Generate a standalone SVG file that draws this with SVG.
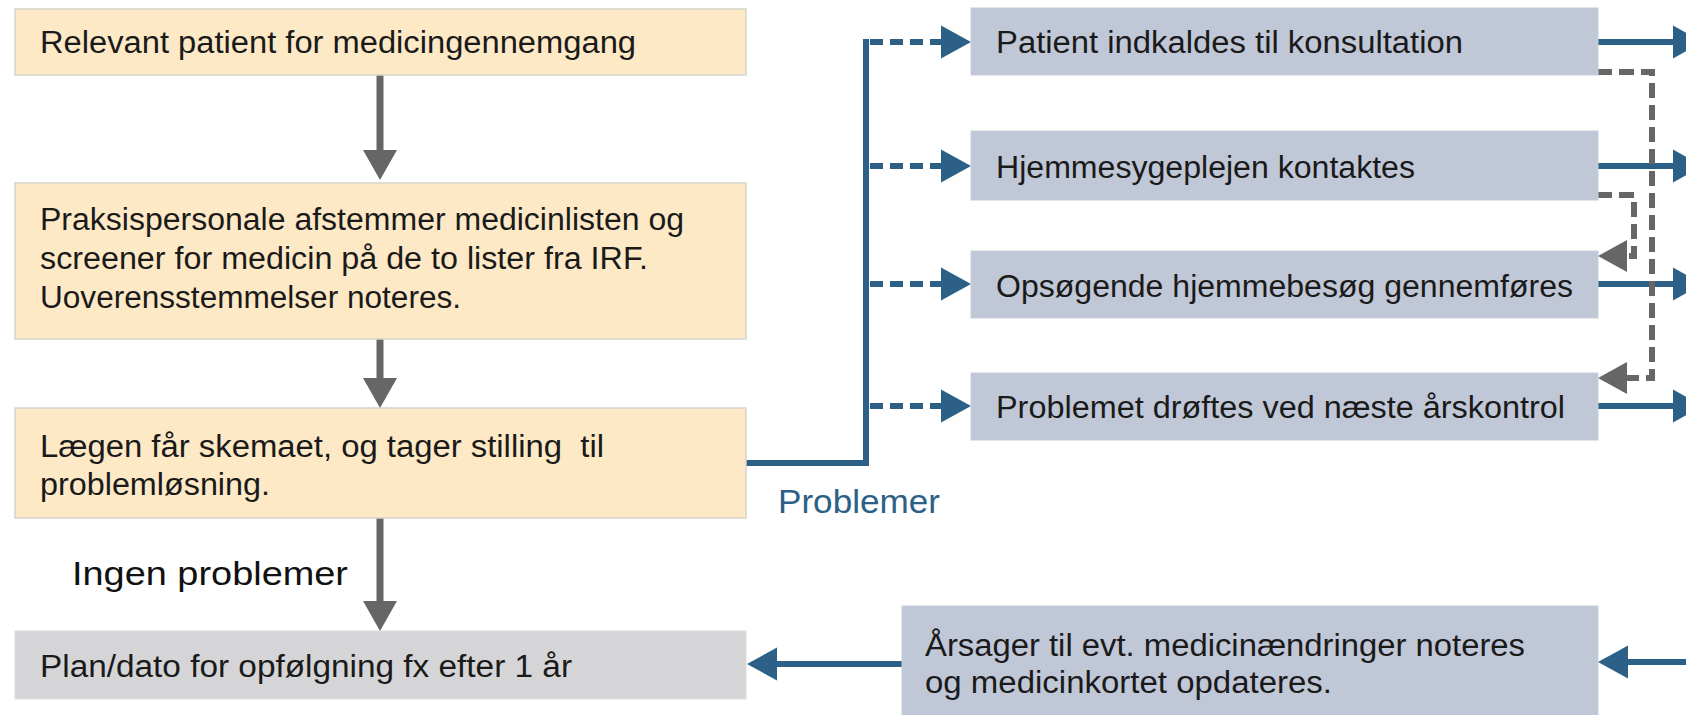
<svg xmlns="http://www.w3.org/2000/svg" width="1686" height="715" viewBox="0 0 1686 715">
<defs>
<style>
.beige{fill:#fde9c6;stroke:#d6d3cc;stroke-width:1.5}
.grey{fill:#d5d5d7;stroke:#dedede;stroke-width:1}
.bbox{fill:#c0c7d6;stroke:#c8ceda;stroke-width:1}
.t{font-family:"Liberation Sans",Arial,sans-serif;font-size:31px;fill:#1a1a1a}
.lbl{font-family:"Liberation Sans",Arial,sans-serif;font-size:33px}
.gline{stroke:#666666;stroke-width:7;fill:none}
.bline{stroke:#2c6086;stroke-width:6;fill:none}
.bdash{stroke:#2c6086;stroke-width:6;fill:none;stroke-dasharray:13 7;stroke-dashoffset:16}
.gdash{stroke:#666666;stroke-width:6;fill:none;stroke-dasharray:15 7}
</style>
<marker id="ahGrey" markerUnits="userSpaceOnUse" markerWidth="31" markerHeight="34" refX="0" refY="17" orient="auto" overflow="visible">
<path d="M0,0 L30,17 L0,34 z" fill="#666666"/>
</marker>
<marker id="ahGreyS" markerUnits="userSpaceOnUse" markerWidth="30" markerHeight="32" refX="0" refY="16" orient="auto" overflow="visible">
<path d="M0,0 L29,16 L0,32 z" fill="#666666"/>
</marker>
<marker id="ahBlue" markerUnits="userSpaceOnUse" markerWidth="31" markerHeight="33" refX="0" refY="16.5" orient="auto" overflow="visible">
<path d="M0,0 L30,16.5 L0,33 z" fill="#2c6086"/>
</marker>
</defs>
<rect width="1686" height="715" fill="#ffffff"/>

<g id="connectors">
<path class="gline" d="M380,75 V150" marker-end="url(#ahGrey)"/>
<path class="gline" d="M380,339 V378" marker-end="url(#ahGrey)"/>
<path class="gline" d="M380,518 V601" marker-end="url(#ahGrey)"/>
<path class="bline" d="M746,463 H866 V39"/>
<path class="bdash" d="M866,42 H941" marker-end="url(#ahBlue)"/>
<path class="bdash" d="M866,166 H941" marker-end="url(#ahBlue)"/>
<path class="bdash" d="M866,284 H941" marker-end="url(#ahBlue)"/>
<path class="bdash" d="M866,406 H941" marker-end="url(#ahBlue)"/>
<path class="bline" d="M1597,42 H1673" marker-end="url(#ahBlue)"/>
<path class="bline" d="M1597,166 H1673" marker-end="url(#ahBlue)"/>
<path class="bline" d="M1597,284 H1673" marker-end="url(#ahBlue)"/>
<path class="bline" d="M1597,406 H1673" marker-end="url(#ahBlue)"/>
<path class="bline" d="M1690,662 H1628" marker-end="url(#ahBlue)"/>
<path class="bline" d="M902,664 H777" marker-end="url(#ahBlue)"/>
<path class="gdash" d="M1597,72 H1652 V378 H1627" marker-end="url(#ahGreyS)"/>
<path class="gdash" d="M1597,195 H1634 V256 H1627" marker-end="url(#ahGreyS)"/>
</g>

<g id="label-ingen">
<text class="lbl" x="72" y="585" fill="#111111" textLength="276" lengthAdjust="spacingAndGlyphs">Ingen problemer</text>
</g>
<g id="label-problemer">
<text class="lbl" x="778" y="513" fill="#2c6086" textLength="162" lengthAdjust="spacingAndGlyphs">Problemer</text>
</g>

<g id="n1">
<rect class="beige" x="15" y="9" width="731" height="66"/>
<text class="t" x="40" y="53" textLength="596" lengthAdjust="spacingAndGlyphs">Relevant patient for medicingennemgang</text>
</g>
<g id="n2">
<rect class="beige" x="15" y="183" width="731" height="156"/>
<text class="t" x="40" y="230" textLength="644" lengthAdjust="spacingAndGlyphs">Praksispersonale afstemmer medicinlisten og</text>
<text class="t" x="40" y="269" textLength="608" lengthAdjust="spacingAndGlyphs">screener for medicin på de to lister fra IRF.</text>
<text class="t" x="40" y="308" textLength="421" lengthAdjust="spacingAndGlyphs">Uoverensstemmelser noteres.</text>
</g>
<g id="n3">
<rect class="beige" x="15" y="408" width="731" height="110"/>
<text class="t" x="40" y="457" textLength="564" lengthAdjust="spacingAndGlyphs" xml:space="preserve">Lægen får skemaet, og tager stilling  til</text>
<text class="t" x="40" y="495" textLength="230" lengthAdjust="spacingAndGlyphs">problemløsning.</text>
</g>
<g id="n4">
<rect class="grey" x="15" y="631" width="731" height="68"/>
<text class="t" x="40" y="677" textLength="532" lengthAdjust="spacingAndGlyphs">Plan/dato for opfølgning fx efter 1 år</text>
</g>
<g id="nA">
<rect class="bbox" x="971" y="8" width="627" height="67"/>
<text class="t" x="996" y="53" textLength="467" lengthAdjust="spacingAndGlyphs">Patient indkaldes til konsultation</text>
</g>
<g id="nB">
<rect class="bbox" x="971" y="131" width="627" height="69"/>
<text class="t" x="996" y="178" textLength="419" lengthAdjust="spacingAndGlyphs">Hjemmesygeplejen kontaktes</text>
</g>
<g id="nC">
<rect class="bbox" x="971" y="251" width="627" height="67"/>
<text class="t" x="996" y="297" textLength="577" lengthAdjust="spacingAndGlyphs">Opsøgende hjemmebesøg gennemføres</text>
</g>
<g id="nD">
<rect class="bbox" x="971" y="373" width="627" height="67"/>
<text class="t" x="996" y="418" textLength="569" lengthAdjust="spacingAndGlyphs">Problemet drøftes ved næste årskontrol</text>
</g>
<g id="nE">
<rect class="bbox" x="902" y="606" width="696" height="112"/>
<text class="t" x="925" y="656" textLength="600" lengthAdjust="spacingAndGlyphs">Årsager til evt. medicinændringer noteres</text>
<text class="t" x="925" y="693" textLength="407" lengthAdjust="spacingAndGlyphs">og medicinkortet opdateres.</text>
</g>
</svg>
